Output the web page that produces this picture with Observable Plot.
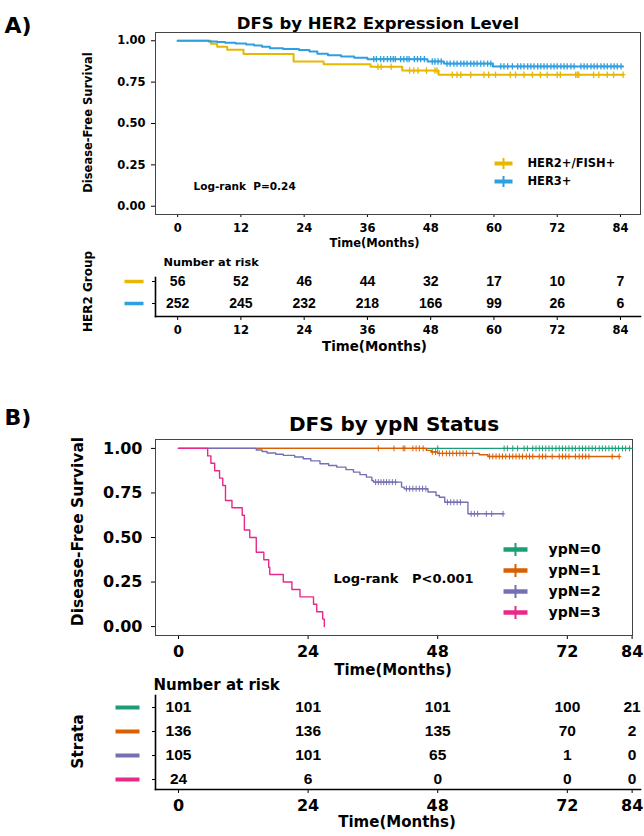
<!DOCTYPE html>
<html><head><meta charset="utf-8">
<script src="https://cdn.jsdelivr.net/npm/d3@7"></script>
<script src="https://cdn.jsdelivr.net/npm/@observablehq/plot@0.6"></script>
<style>
html,body{margin:0;padding:0;background:#fff;}
#fig{position:relative;width:644px;height:836px;overflow:hidden;}
</style></head><body><div id="fig"></div>
<script>
// ---------- Panel A data ----------
const groupsA = ["HER2+/FISH+", "HER3+"];
const colorsA = ["#E7B800", "#2E9FDF"];
const ticksA = [0, 12, 24, 36, 48, 60, 72, 84];
const her2Time = [0, 6.3, 7.5, 9.4, 12.5, 22.0, 27.7, 36.6, 42.6, 49.5, 84.5];
const her2Surv = [1, 0.982, 0.964, 0.946, 0.920, 0.875, 0.858, 0.843, 0.820, 0.795, 0.795];
const her2Censor = [38.0, 38.6, 40.5, 44.0, 44.8, 45.6, 47.2, 48.8, 49.2, 52.1, 53.0, 53.7, 55.6, 58.1, 59.0, 60.3, 63.1, 64.1, 65.7, 67.3, 68.8, 70.1, 72.0, 72.6, 75.5, 75.8, 76.1, 78.9, 79.9, 81.5, 82.7, 84.5];
const her3Time = [0, 5.9, 7.5, 9.0, 11.0, 13.0, 14.5, 16.0, 17.5, 20.0, 23.0, 25.0, 26.5, 28.5, 31.0, 33.5, 36.0, 47.4, 50.5, 59.8, 84.5];
const her3Surv = [1, 0.996, 0.992, 0.988, 0.984, 0.978, 0.972, 0.964, 0.955, 0.950, 0.944, 0.935, 0.922, 0.912, 0.905, 0.898, 0.889, 0.875, 0.862, 0.845, 0.845];
const her3Censor = [37.2, 37.7, 38.5, 39.1, 39.8, 40.4, 40.9, 41.3, 42.3, 42.9, 43.5, 43.9, 44.9, 45.5, 46.1, 46.8, 48.3, 48.8, 49.4, 50.0, 51.1, 51.7, 52.4, 53.0, 53.7, 54.3, 54.9, 55.6, 56.2, 56.8, 57.5, 58.1, 58.8, 59.4, 61.3, 61.9, 62.6, 63.5, 64.5, 65.1, 65.7, 66.4, 67.0, 67.6, 68.3, 68.9, 69.5, 70.1, 70.8, 71.4, 72.0, 72.7, 73.3, 73.9, 74.6, 75.2, 76.5, 77.1, 77.7, 78.4, 79.0, 79.6, 80.3, 80.9, 81.5, 82.2, 82.8, 83.4, 84.1];
const riskHer2 = [56, 52, 46, 44, 32, 17, 10, 7];
const riskHer3 = [252, 245, 232, 218, 166, 99, 26, 6];

// ---------- Panel B data ----------
const groupsB = ["ypN=0", "ypN=1", "ypN=2", "ypN=3"];
const colorsB = ["#1B9E77", "#D95F02", "#7570B3", "#E7298A"];
const ticksB = [0, 24, 48, 72, 84];
const ypn0Time = [0, 84.0];
const ypn0Surv = [1, 1];
const ypn0Censor = [48.0, 60.3, 60.9, 61.9, 62.8, 64.0, 64.6, 65.6, 66.2, 66.8, 67.4, 68.0, 68.6, 69.2, 69.9, 70.5, 71.1, 71.7, 72.3, 72.9, 73.5, 74.2, 74.8, 75.4, 76.0, 76.6, 77.2, 77.9, 78.5, 79.1, 79.7, 80.3, 80.9, 81.5, 82.2, 82.8, 83.5];
const ypn1Time = [0, 45.9, 46.8, 48.0, 55.7, 57.3, 81.6];
const ypn1Surv = [1, 0.989, 0.980, 0.972, 0.964, 0.955, 0.955];
const ypn1Censor = [37.0, 39.9, 41.6, 41.9, 43.4, 44.0, 44.6, 45.3, 47.0, 47.6, 48.3, 48.9, 49.6, 50.2, 50.8, 51.5, 52.1, 52.7, 53.3, 54.5, 57.6, 58.2, 58.8, 59.4, 60.0, 60.6, 61.3, 61.9, 62.5, 63.1, 63.7, 64.4, 65.0, 65.6, 66.8, 67.4, 68.0, 69.2, 70.5, 71.1, 71.7, 72.3, 73.5, 74.2, 74.8, 75.4, 76.0, 80.3, 81.6];
const ypn2Time = [0, 14.4, 15.5, 16.4, 18.0, 19.4, 21.5, 23.1, 24.5, 26.2, 27.8, 29.3, 31.0, 32.4, 33.6, 34.8, 35.8, 36.1, 41.3, 41.8, 46.2, 47.7, 48.3, 49.3, 53.6, 60.1];
const ypn2Surv = [1, 0.991, 0.983, 0.974, 0.967, 0.961, 0.952, 0.942, 0.930, 0.914, 0.904, 0.895, 0.881, 0.867, 0.853, 0.839, 0.820, 0.811, 0.783, 0.774, 0.755, 0.736, 0.726, 0.698, 0.633, 0.633];
const ypn2Censor = [36.5, 37.0, 37.5, 38.0, 38.5, 39.0, 39.6, 40.2, 42.2, 42.8, 43.4, 44.0, 44.6, 45.2, 45.8, 49.8, 50.4, 51.0, 51.6, 52.2, 54.2, 54.8, 55.4, 57.0, 58.0, 60.1];
const ypn3Time = [0, 5.4, 6.0, 6.7, 7.6, 8.2, 8.7, 9.9, 11.8, 12.2, 13.2, 14.4, 15.8, 16.7, 16.9, 19.4, 21.0, 22.5, 25.0, 25.6, 26.7, 27.0];
const ypn3Surv = [1, 0.958, 0.917, 0.875, 0.833, 0.792, 0.708, 0.667, 0.625, 0.542, 0.5, 0.417, 0.375, 0.333, 0.292, 0.25, 0.208, 0.167, 0.125, 0.083, 0.042, 0];
const ypn3Censor = [];
const riskYpn0 = [101, 101, 101, 100, 21];
const riskYpn1 = [136, 136, 135, 70, 2];
const riskYpn2 = [105, 101, 65, 1, 0];
const riskYpn3 = [24, 6, 0, 0, 0];

// ---------- helpers ----------
const fig = document.getElementById("fig");
function place(el, left, top) {
  el.style.position = "absolute";
  el.style.left = left + "px";
  el.style.top = top + "px";
  fig.appendChild(el);
}
function curveRows(groups, times, survs) {
  const rows = [];
  groups.forEach((g, i) => times[i].forEach((t, j) => rows.push({g, t, s: survs[i][j]})));
  return rows;
}
function censorRows(groups, times, survs, cens) {
  const rows = [];
  groups.forEach((g, i) => cens[i].forEach(t => {
    const j = d3.bisectRight(times[i], t) - 1;
    rows.push({g, t, s: survs[i][Math.max(0, j)]});
  }));
  return rows;
}
function riskRows(groups, ticks, risks) {
  const rows = [];
  groups.forEach((g, i) => ticks.forEach((t, j) => rows.push({g, t, n: String(risks[i][j])})));
  return rows;
}
const hbar = {draw(ctx, size) { const r = Math.sqrt(size / Math.PI); ctx.moveTo(-r, 0); ctx.lineTo(r, 0); }};
const vbar = {draw(ctx, size) { const r = Math.sqrt(size / Math.PI); ctx.moveTo(0, -r); ctx.lineTo(0, r); }};
const plus = {draw(ctx, size) { const r = Math.sqrt(size / Math.PI); ctx.moveTo(-r * 0.7, 0); ctx.lineTo(r * 0.7, 0); ctx.moveTo(0, -r); ctx.lineTo(0, r); }};
const baseStyle = (fs) => ({fontFamily: "DejaVu Sans", fontWeight: "bold", fontSize: fs + "px", background: "none", overflow: "visible", color: "#000"});
const numFont = "Liberation Sans, Arial, sans-serif";

// ---------- Panel A: curves ----------
const timesA = [her2Time, her3Time], survsA = [her2Surv, her3Surv], censA = [her2Censor, her3Censor];
const xDomA = [-4.2, 87.8];
place(Plot.plot({
  width: 644, height: 252, marginTop: 32, marginBottom: 38, marginLeft: 155, marginRight: 4,
  style: baseStyle(11.5),
  x: {domain: xDomA, ticks: ticksA, tickSize: 3, tickPadding: 6, label: null},
  y: {domain: [-0.05, 1.05], ticks: [0, 0.25, 0.5, 0.75, 1], tickFormat: ".2f", tickSize: 4, tickPadding: 6, label: null},
  color: {domain: groupsA, range: colorsA},
  marks: [
    Plot.frame({stroke: "#444"}),
    Plot.line(curveRows(groupsA, timesA, survsA), {x: "t", y: "s", z: "g", stroke: "g", curve: "step-after", strokeWidth: 2}),
    Plot.dot(censorRows(groupsA, timesA, survsA, censA), {x: "t", y: "s", stroke: "g", fill: "none", symbol: plus, r: 3.2, strokeWidth: 1.3}),
    Plot.text(["A)"], {text: d => d, frameAnchor: "top-left", textAnchor: "start", dx: -151, dy: -15, fontSize: 22}),
    Plot.text(["DFS by HER2 Expression Level"], {text: d => d, frameAnchor: "top", textAnchor: "middle", dx: -20, dy: -15.5, fontSize: 16.5}),
    Plot.text(["Disease-Free Survival"], {text: d => d, frameAnchor: "left", textAnchor: "middle", rotate: -90, dx: -67, dy: -1, fontSize: 11.5}),
    Plot.text(["Time(Months)"], {text: d => d, frameAnchor: "bottom", textAnchor: "middle", dx: -23.5, dy: 32, fontSize: 11.5}),
    Plot.text(["Log-rank\u00a0\u00a0P=0.24"], {text: d => d, frameAnchor: "bottom-left", textAnchor: "start", dx: 38, dy: -25, fontSize: 10.5})
  ]
}), 0, 0);

// legend A
place(Plot.plot({
  width: 150, height: 40, margin: 0, style: baseStyle(11.5),
  y: {type: "point", domain: groupsA, range: [10, 28], padding: 0, axis: null},
  color: {domain: groupsA, range: colorsA},
  marks: [
    Plot.dot(groupsA, {y: d => d, frameAnchor: "left", dx: 13, symbol: hbar, r: 9, stroke: d => d, fill: "none", strokeWidth: 4}),
    Plot.dot(groupsA, {y: d => d, frameAnchor: "left", dx: 13, symbol: vbar, r: 5.5, stroke: d => d, fill: "none", strokeWidth: 2}),
    Plot.text(groupsA, {y: d => d, text: d => d, frameAnchor: "left", textAnchor: "start", dx: 37, fontSize: 11.5})
  ]
}), 490, 153);

// ---------- Panel A: risk table ----------
place(Plot.plot({
  width: 644, height: 110, marginTop: 27, marginBottom: 44, marginLeft: 155, marginRight: 4,
  style: baseStyle(11.5),
  x: {domain: xDomA, ticks: ticksA, tickSize: 4, tickPadding: 5, label: null},
  y: {type: "point", domain: groupsA, range: [31, 53], padding: 0, tickSize: 3, tickFormat: () => "", label: null},
  color: {domain: groupsA, range: colorsA},
  marks: [
    Plot.frame({anchor: "left", strokeWidth: 1.6}),
    Plot.frame({anchor: "bottom", strokeWidth: 1.6}),
    Plot.text(riskRows(groupsA, ticksA, [riskHer2, riskHer3]), {x: "t", y: "g", text: "n", fontSize: 14, fontFamily: numFont}),
    Plot.dot(groupsA, {y: d => d, frameAnchor: "left", dx: -21.5, symbol: hbar, r: 9.5, stroke: d => d, fill: "none", strokeWidth: 3.5}),
    Plot.text(["Number at risk"], {text: d => d, frameAnchor: "top-left", textAnchor: "start", dx: 8, dy: -19.5, fontSize: 11.3}),
    Plot.text(["HER2 Group"], {text: d => d, frameAnchor: "left", textAnchor: "middle", rotate: -90, dx: -67, dy: -5.5, fontSize: 12}),
    Plot.text(["Time(Months)"], {text: d => d, frameAnchor: "bottom", textAnchor: "middle", dx: -23.5, dy: 34.4, fontSize: 13.4})
  ]
}), 0, 250);

// ---------- Panel B: curves ----------
const timesB = [ypn0Time, ypn1Time, ypn2Time, ypn3Time];
const survsB = [ypn0Surv, ypn1Surv, ypn2Surv, ypn3Surv];
const censB = [ypn0Censor, ypn1Censor, ypn2Censor, ypn3Censor];
place(Plot.plot({
  width: 644, height: 268, marginTop: 39, marginBottom: 33, marginLeft: 155, marginRight: 12,
  style: baseStyle(16),
  x: {domain: [-4.26, 84.07], ticks: ticksB, tickSize: 4, tickPadding: 6, label: null},
  y: {domain: [-0.05, 1.05], ticks: [0, 0.25, 0.5, 0.75, 1], tickFormat: ".2f", tickSize: 4, tickPadding: 9, label: null},
  color: {domain: groupsB, range: colorsB},
  marks: [
    Plot.frame({stroke: "#444"}),
    Plot.line(curveRows(groupsB, timesB, survsB), {x: "t", y: "s", z: "g", stroke: "g", curve: "step-after", strokeWidth: 1.4}),
    Plot.dot(censorRows(groupsB, timesB, survsB, censB), {x: "t", y: "s", stroke: "g", fill: "none", symbol: plus, r: 3, strokeWidth: 1}),
    Plot.text(["B)"], {text: d => d, frameAnchor: "top-left", textAnchor: "start", dx: -151, dy: -30, fontSize: 22}),
    Plot.text(["DFS by ypN Status"], {text: d => d, frameAnchor: "top", textAnchor: "middle", dx: 0, dy: -22.4, fontSize: 20}),
    Plot.text(["Disease-Free Survival"], {text: d => d, frameAnchor: "left", textAnchor: "middle", rotate: -90, dx: -77, dy: -6, fontSize: 15.5}),
    Plot.text(["Time(Months)"], {text: d => d, frameAnchor: "bottom", textAnchor: "middle", dx: -1, dy: 39, fontSize: 15}),
    Plot.text(["Log-rank\u00a0\u00a0\u00a0P<0.001"], {text: d => d, frameAnchor: "bottom-left", textAnchor: "start", dx: 178, dy: -52.2, fontSize: 13})
  ]
}), 0, 400);

// legend B
place(Plot.plot({
  width: 140, height: 84, margin: 0, style: baseStyle(14),
  y: {type: "point", domain: groupsB, range: [11, 74], padding: 0, axis: null},
  color: {domain: groupsB, range: colorsB},
  marks: [
    Plot.dot(groupsB, {y: d => d, frameAnchor: "left", dx: 20, symbol: hbar, r: 12, stroke: d => d, fill: "none", strokeWidth: 4.5}),
    Plot.dot(groupsB, {y: d => d, frameAnchor: "left", dx: 20, symbol: vbar, r: 6.5, stroke: d => d, fill: "none", strokeWidth: 2}),
    Plot.text(groupsB, {y: d => d, text: d => d, frameAnchor: "left", textAnchor: "start", dx: 53, fontSize: 14})
  ]
}), 495, 538);

// ---------- Panel B: risk table ----------
place(Plot.plot({
  width: 644, height: 168, marginTop: 27, marginBottom: 47, marginLeft: 155, marginRight: 4,
  style: baseStyle(16),
  x: {domain: [-4.26, 85.55], ticks: ticksB, tickSize: 4, tickPadding: 6, label: null},
  y: {type: "point", domain: groupsB, range: [38.5, 112], padding: 0, tickSize: 3, tickFormat: () => "", label: null},
  color: {domain: groupsB, range: colorsB},
  marks: [
    Plot.frame({anchor: "left", strokeWidth: 1.6}),
    Plot.frame({anchor: "bottom", strokeWidth: 1.6}),
    Plot.text(riskRows(groupsB, ticksB, [riskYpn0, riskYpn1, riskYpn2, riskYpn3]), {x: "t", y: "g", text: "n", fontSize: 15.5, fontFamily: numFont}),
    Plot.dot(groupsB, {y: d => d, frameAnchor: "left", dx: -28, symbol: hbar, r: 12, stroke: d => d, fill: "none", strokeWidth: 4}),
    Plot.text(["Number at risk"], {text: d => d, frameAnchor: "top-left", textAnchor: "start", dx: -2, dy: -15.8, fontSize: 15}),
    Plot.text(["Strata"], {text: d => d, frameAnchor: "left", textAnchor: "middle", rotate: -90, dx: -77, dy: -1, fontSize: 15.5}),
    Plot.text(["Time(Months)"], {text: d => d, frameAnchor: "bottom", textAnchor: "middle", dx: -1, dy: 37.5, fontSize: 15})
  ]
}), 0, 668);
</script></body></html>
